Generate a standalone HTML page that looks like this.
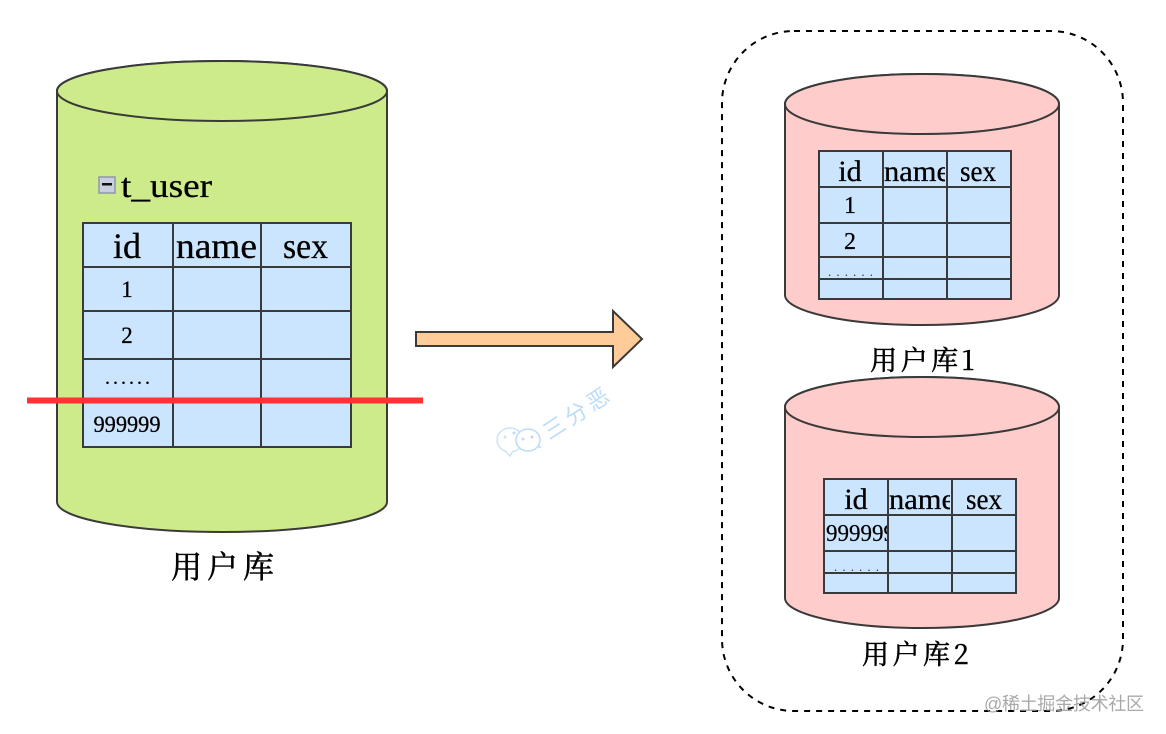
<!DOCTYPE html>
<html>
<head>
<meta charset="utf-8">
<style>
html,body{margin:0;padding:0;background:#fff;width:1166px;height:734px;overflow:hidden}
svg{display:block;filter:blur(0.35px)}
.l{font-family:"Liberation Serif","Noto Serif CJK SC",serif;fill:#000;stroke:#000;stroke-width:.3;text-anchor:middle}
.d{font-family:"Liberation Serif",serif;fill:#000;stroke:#000;stroke-width:.2}
.cjk{font-family:"Noto Serif CJK SC","Liberation Serif",serif;fill:#000;stroke:#000;stroke-width:.55;text-anchor:middle}
.cyl{stroke:#3a3a3a;stroke-width:2}
.g{stroke:#3a3a3a;stroke-width:2;fill:none}
</style>
</head>
<body>
<svg width="1166" height="734" viewBox="0 0 1166 734" xmlns="http://www.w3.org/2000/svg">
<defs>
<clipPath id="c1"><rect x="884" y="152" width="61" height="34"/></clipPath>
<clipPath id="c2"><rect x="889" y="480" width="61" height="34"/></clipPath>
<clipPath id="c3"><rect x="825" y="516" width="62" height="34"/></clipPath>
</defs>

<!-- dashed container -->
<rect x="722" y="31" width="401" height="680" rx="72" ry="72" fill="none" stroke="#000" stroke-width="2" stroke-dasharray="6 6"/>

<!-- left cylinder -->
<path class="cyl" fill="#cdeb8b" d="M57 91 A165 30 0 0 1 387 91 V502 A165 30 0 0 1 57 502 Z"/>
<ellipse class="cyl" fill="#cdeb8b" cx="222" cy="91" rx="165" ry="30"/>

<!-- t_user -->
<rect x="99" y="177" width="16" height="16" fill="#c9cfdc" stroke="#8f97a8" stroke-width="1.5"/>
<rect x="102" y="183" width="10" height="2.5" fill="#111"/>
<text class="l" x="166.500" y="197" font-size="34" textLength="91" lengthAdjust="spacingAndGlyphs">t_user</text>

<!-- left table -->
<rect x="83" y="223" width="268" height="224" fill="#cce5ff"/>
<path class="g" d="M83 223H351V447H83ZM173 223V447M261 223V447M83 267H351M83 311H351M83 359H351"/>
<text class="l" x="127" y="258" font-size="36">id</text>
<text class="l" x="216.500" y="258" font-size="36" textLength="81" lengthAdjust="spacingAndGlyphs">name</text>
<text class="l" x="305.500" y="258" font-size="36" textLength="45" lengthAdjust="spacingAndGlyphs">sex</text>
<text class="l" x="127" y="297" font-size="23">1</text>
<text class="l" x="127" y="343" font-size="23">2</text>
<text class="d" x="105" y="384" font-size="20" textLength="45" lengthAdjust="spacing">......</text>
<text class="l" x="127" y="432" font-size="23" textLength="67" lengthAdjust="spacingAndGlyphs">999999</text>

<!-- red line -->
<rect x="27" y="397.500" width="396" height="6" fill="#ff3333"/>

<text class="cjk" x="225" y="578" font-size="31" letter-spacing="5">用户库</text>

<!-- arrow -->
<path d="M416 332H613V311L642 339L613 367V346H416Z" fill="#ffcc99" stroke="#3a3a3a" stroke-width="2"/>

<!-- watermark -->
<g fill="#fff" stroke="#cfe3f7" stroke-width="1.500">
<ellipse cx="510" cy="440" rx="13" ry="12"/>
<path d="M505 451 L510 456 L513 451" />
<path d="M534 446 L540 447 L536 441" stroke="#bcdcf8"/>
<ellipse cx="528" cy="440" rx="12" ry="11" stroke="#bcdcf8"/>
</g>
<circle cx="505" cy="437" r="1.500" fill="#cfe3f7"/><circle cx="514" cy="433" r="1.500" fill="#bcdcf8"/>
<circle cx="523" cy="439" r="1.500" fill="#bcdcf8"/><circle cx="532" cy="437" r="1.500" fill="#bcdcf8"/>
<text transform="translate(582 419) rotate(-33)" font-family="'Noto Sans CJK SC',sans-serif" font-size="22" fill="#bcdcf8" text-anchor="middle" letter-spacing="4">三分恶</text>

<!-- right cylinder 1 -->
<path class="cyl" fill="#ffcccc" d="M785 104 A137 30 0 0 1 1059 104 V295 A137 30 0 0 1 785 295 Z"/>
<ellipse class="cyl" fill="#ffcccc" cx="922" cy="104" rx="137" ry="30"/>
<rect x="819" y="151" width="192" height="148" fill="#cce5ff"/>
<path class="g" d="M819 151H1011V299H819ZM883 151V299M947 151V299M819 187H1011M819 223H1011M819 257H1011M819 279H1011"/>
<text class="l" x="850" y="181" font-size="30">id</text>
<g clip-path="url(#c1)"><text class="l" x="917" y="181" font-size="30" textLength="66" lengthAdjust="spacingAndGlyphs">name</text></g>
<text class="l" x="978" y="181" font-size="30" textLength="36" lengthAdjust="spacingAndGlyphs">sex</text>
<text class="l" x="850" y="213" font-size="24">1</text>
<text class="l" x="850" y="249" font-size="24">2</text>
<text class="d" x="828" y="276" font-size="13" textLength="45" lengthAdjust="spacing" style="stroke:none;fill:#333">......</text>
<text class="cjk" x="924" y="370" font-size="27" letter-spacing="3.500">用户库1</text>

<!-- right cylinder 2 -->
<path class="cyl" fill="#ffcccc" d="M785 407 A137 30 0 0 1 1059 407 V598 A137 30 0 0 1 785 598 Z"/>
<ellipse class="cyl" fill="#ffcccc" cx="922" cy="407" rx="137" ry="30"/>
<rect x="824" y="479" width="192" height="114" fill="#cce5ff"/>
<path class="g" d="M824 479H1016V593H824ZM888 479V593M952 479V593M824 515H1016M824 551H1016M824 573H1016"/>
<text class="l" x="856" y="509" font-size="30">id</text>
<g clip-path="url(#c2)"><text class="l" x="922" y="509" font-size="30" textLength="66" lengthAdjust="spacingAndGlyphs">name</text></g>
<text class="l" x="984" y="509" font-size="30" textLength="36" lengthAdjust="spacingAndGlyphs">sex</text>
<g clip-path="url(#c3)"><text class="d" x="826" y="541" font-size="24" textLength="69" lengthAdjust="spacingAndGlyphs">999999</text></g>
<text class="d" x="834" y="571" font-size="13" textLength="45" lengthAdjust="spacing" style="stroke:none;fill:#333">......</text>
<text class="cjk" x="917" y="664" font-size="27" letter-spacing="3.500">用户库2</text>

<!-- site watermark -->
<text x="984" y="710" font-family="'Liberation Sans','Noto Sans CJK SC',sans-serif" font-size="18" textLength="160" fill="#9a9a9a" opacity="0.85">@稀土掘金技术社区</text>
</svg>
</body>
</html>
